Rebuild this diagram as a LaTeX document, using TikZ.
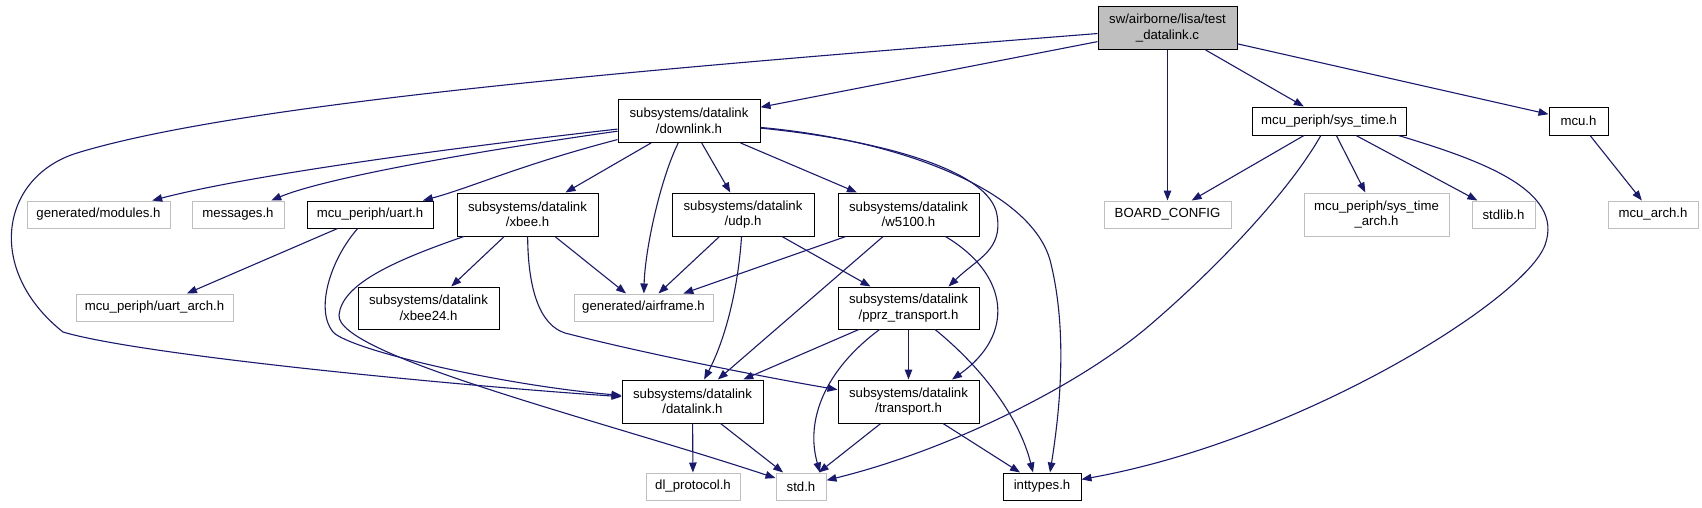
\documentclass[tikz,border=0pt]{standalone}
\usepackage{fontspec}
\setmainfont{Liberation Sans}
\usetikzlibrary{arrows.meta,calc}
\definecolor{edgec}{RGB}{25,25,112}
\definecolor{lgray}{RGB}{191,191,191}
\begin{document}
\begin{tikzpicture}[x=1pt,y=-1pt,
  box/.style={draw=black,line width=1pt,inner sep=0pt,align=center,minimum height=27pt,
    font=\fontsize{13.2}{15.5}\selectfont},
  gbox/.style={box,draw=lgray},
  two/.style={minimum height=43pt},
  edge/.style={draw=edgec,line width=1.1pt,-{Triangle[length=10pt,width=7.5pt]}}]
\useasboundingbox[fill=white] (0,0) rectangle (1702,507);
% nodes
\node[box,fill=lgray,two,minimum width=139pt] (T) at (1167.5,28) {sw/airborne/lisa/test\\\_datalink.c};
\node[box,two,minimum width=142pt] (D) at (689,121) {subsystems/datalink\\/downlink.h};
\node[gbox,minimum width=143pt] (mod) at (98.5,214.5) {generated/modules.h};
\node[gbox,minimum width=92pt] (msg) at (238,214.5) {messages.h};
\node[box,minimum width=126pt] (uart) at (370,214.5) {mcu\_periph/uart.h};
\node[box,two,minimum width=141pt] (xbee) at (527.5,214.5) {subsystems/datalink\\/xbee.h};
\node[box,two,minimum width=142pt] (udp) at (743,214.5) {subsystems/datalink\\/udp.h};
\node[box,two,minimum width=141pt] (w51) at (908.5,214.5) {subsystems/datalink\\/w5100.h};
\node[gbox,minimum width=127pt] (B) at (1167.5,214.5) {BOARD\_CONFIG};
\node[box,minimum width=154pt,minimum height=28pt] (S) at (1329,121) {mcu\_periph/sys\_time.h};
\node[gbox,two,minimum width=145pt] (sta) at (1376.5,214.5) {mcu\_periph/sys\_time\\\_arch.h};
\node[gbox,minimum width=63pt] (stdl) at (1503.5,214.5) {stdlib.h};
\node[box,minimum width=59pt,minimum height=28pt] (mcu) at (1578.5,121) {mcu.h};
\node[gbox,minimum width=90pt] (mcua) at (1653,214.5) {mcu\_arch.h};
\node[gbox,minimum width=157pt] (uarta) at (154.5,307.5) {mcu\_periph/uart\_arch.h};
\node[box,two,minimum width=141pt,minimum height=42pt] (xb24) at (428.5,308) {subsystems/datalink\\/xbee24.h};
\node[gbox,minimum width=139pt] (air) at (643.5,307.5) {generated/airframe.h};
\node[box,two,minimum width=141pt,minimum height=42pt] (pprz) at (908.5,308) {subsystems/datalink\\/pprz\_transport.h};
\node[box,two,minimum width=141pt] (L) at (692.5,401.5) {subsystems/datalink\\/datalink.h};
\node[box,two,minimum width=141pt] (tr) at (908.5,401.5) {subsystems/datalink\\/transport.h};
\node[gbox,minimum width=94pt] (dl) at (693,486.5) {dl\_protocol.h};
\node[gbox,minimum width=50pt] (std) at (801,486.5) {std.h};
\node[box,minimum width=78pt] (intt) at (1042,486.5) {inttypes.h};
% edges from test_datalink.c
\draw[edge] (T) -- (D);
\draw[edge] (T) .. controls (700,65) and (250,100) .. (77,153)
  .. controls (0,177) and (-15,270) .. (63,332)
  .. controls (140,355) and (450,385) .. (L);
\draw[edge] (T) -- (B);
\draw[edge] (T) -- (S);
\draw[edge] (T) -- (mcu);
% edges from downlink.h
\draw[edge] (D) .. controls (450,148) and (250,175) .. (mod);
\draw[edge] (D) .. controls (450,155) and (320,180) .. (msg);
\draw[edge] (D) .. controls (520,165) and (470,188) .. (uart);
\draw[edge] (D) -- (xbee);
\draw[edge] (D) .. controls (660,180) and (645,250) .. (air);
\draw[edge] (D) -- (udp);
\draw[edge] (D) -- (w51);
\draw[edge] (D) .. controls (880,140) and (990,170) .. (997,215)
  .. controls (1003,250) and (978,258) .. ($(pprz.north)+(40,0)$);
\draw[edge] (D) .. controls (900,140) and (1030,190) .. (1050,260)
  .. controls (1068,330) and (1060,410) .. ($(intt.north)+(8,0)$);
% edges from xbee.h
\draw[edge] (xbee) .. controls (390,262) and (342,285) .. (339,315)
  .. controls (336,355) and (600,420) .. (std);
\draw[edge] (xbee) -- (xb24);
\draw[edge] (xbee) .. controls (528,290) and (540,325) .. (565,333)
  .. controls (650,355) and (780,380) .. (tr);
\draw[edge] (xbee) -- (air);
% edges from uart.h
\draw[edge] (uart) -- (uarta);
\draw[edge] (uart) .. controls (330,260) and (315,310) .. (333,332)
  .. controls (350,350) and (500,385) .. (L);
% edges from udp.h
\draw[edge] (udp) -- (air);
\draw[edge] (udp) .. controls (738,290) and (725,340) .. (L);
\draw[edge] (udp) -- (pprz);
% edges from w5100.h
\draw[edge] (w51) -- (air);
\draw[edge] (w51) -- (L);
\draw[edge] (w51) .. controls (1010,275) and (1015,335) .. ($(tr.north)+(43.5,0)$);
% edges from pprz_transport.h
\draw[edge] (pprz) -- (L);
\draw[edge] (pprz) .. controls (825,370) and (805,420) .. ($(std.north)+(19,0)$);
\draw[edge] (pprz) -- (tr);
\draw[edge] (pprz) .. controls (985,370) and (1020,420) .. ($(intt.north)+(-9,0)$);
% edges from datalink.h and transport.h
\draw[edge] (L) -- (dl);
\draw[edge] (L) -- (std);
\draw[edge] (tr) -- (std);
\draw[edge] (tr) -- (intt);
% edges from sys_time.h
\draw[edge] (S) -- (B);
\draw[edge] (S) .. controls (1290,190) and (1220,265) .. (1150,325)
  .. controls (1080,385) and (950,450) .. (std);
\draw[edge] (S) -- (sta);
\draw[edge] (S) -- (stdl);
\draw[edge] ($(S.south east)+(-8,0)$) .. controls (1480,160) and (1565,190) .. (1545,245)
  .. controls (1525,300) and (1300,440) .. (intt);
% edge from mcu.h
\draw[edge] (mcu) -- (mcua);
\end{tikzpicture}
\end{document}
